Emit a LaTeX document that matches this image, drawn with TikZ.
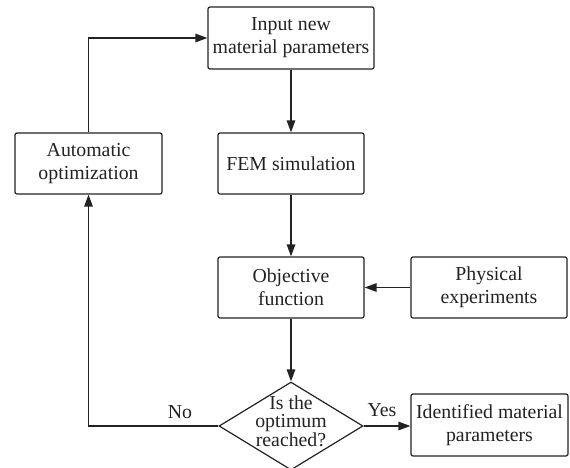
\documentclass[tikz,border=0pt]{standalone}
\usepackage{fontspec}
\setmainfont{Liberation Serif}
\usetikzlibrary{arrows.meta,shapes.geometric}
\definecolor{ink}{HTML}{222222}
\begin{document}
\begin{tikzpicture}[x=1pt,y=-1pt,
  every node/.style={font=\fontsize{19.8}{23}\selectfont, text=ink},
  box/.style={draw=ink, line width=1.2pt, rounded corners=2pt, align=center, inner sep=0pt, minimum height=61pt},
  flow/.style={draw=ink, line width=1.3pt, -{Triangle[length=12pt,width=8.5pt]}},
  plain/.style={draw=ink, line width=1.2pt}]
\useasboundingbox (0,0) rectangle (570,467);
\node[box, minimum width=166pt, minimum height=62pt] (input) at (291,38) {Input new\\material parameters};
\node[box, minimum width=147pt] (auto) at (88.5,163.5) {Automatic\\optimization};
\node[box, minimum width=146pt] (fem) at (291,163.5) {FEM simulation};
\node[box, minimum width=146pt] (obj) at (291,287.5) {Objective\\function};
\node[box, minimum width=156pt] (phys) at (489,287.5) {Physical\\experiments};
\node[draw=ink, line width=1.2pt, shape=diamond, minimum width=144pt, minimum height=88pt, inner sep=0pt] (dec) at (291,426) {};
\node[align=center, font=\fontsize{19.8}{18.5}\selectfont, inner sep=0pt] (dectext) at (291,421) {Is the\\optimum\\reached?};
\node[box, minimum width=157pt, minimum height=62pt] (ident) at (489.5,425) {Identified material\\parameters};
\node[inner sep=0pt] (no) at (180,412) {No};
\node[inner sep=0pt] (yes) at (382,410) {Yes};
\draw[flow] (input) -- (fem);
\draw[flow] (fem) -- (obj);
\draw[flow] (obj) -- (dec.north);
\draw[flow] (phys) -- (obj);
\draw[flow] (dec.east) -- (dec.east -| ident.west);
\draw[flow] (dec.west) -| (auto.south);
\draw[flow] (auto.north) |- (input.west);
\end{tikzpicture}
\end{document}
